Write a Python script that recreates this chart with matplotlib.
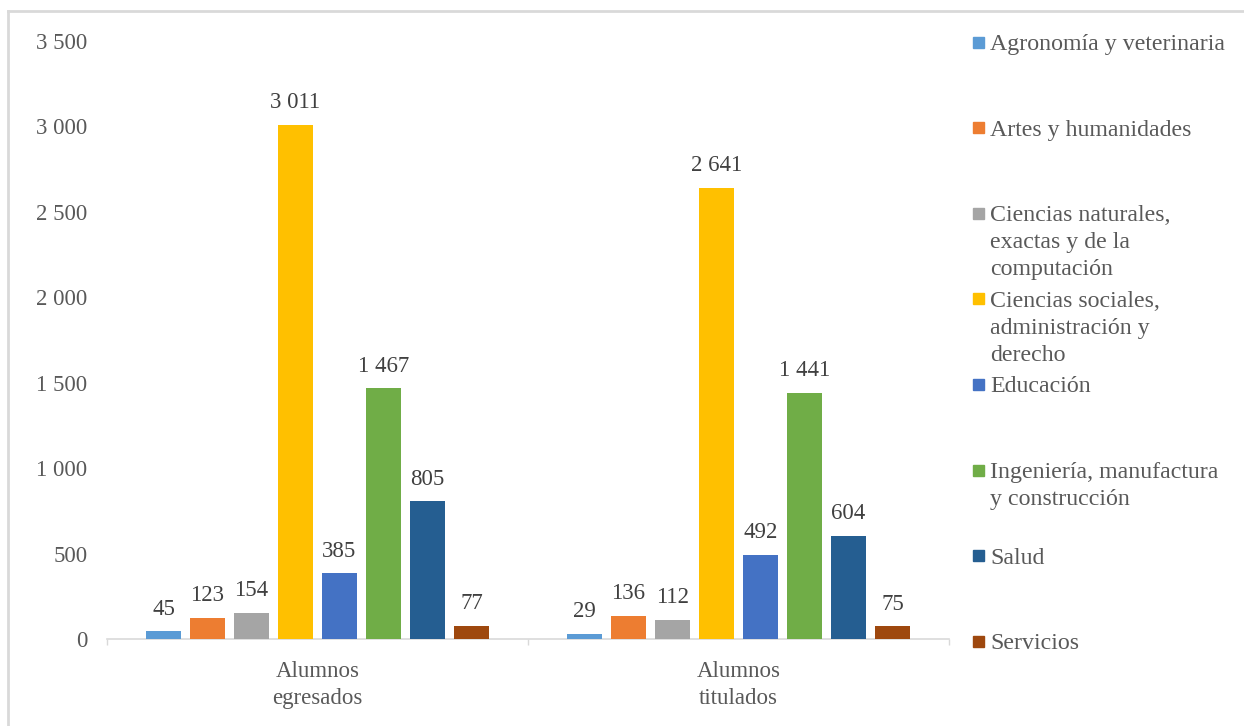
import matplotlib
matplotlib.use("Agg")
import matplotlib.pyplot as plt
import numpy as np
from matplotlib.lines import Line2D
from matplotlib.patches import Rectangle
from matplotlib.ticker import FuncFormatter

plt.rcParams['font.family'] = ['Liberation Serif', 'DejaVu Serif']

# data
groups = ["Alumnos\negresados", "Alumnos\ntitulados"]
areas = [
    "Agronomía y veterinaria",
    "Artes y humanidades",
    "Ciencias naturales,\nexactas y de la\ncomputación",
    "Ciencias sociales,\nadministración y\nderecho",
    "Educación",
    "Ingeniería, manufactura\ny construcción",
    "Salud",
    "Servicios",
]
egresados = [45, 123, 154, 3011, 385, 1467, 805, 77]
titulados = [29, 136, 112, 2641, 492, 1441, 604, 75]
y_ticks = [0, 500, 1000, 1500, 2000, 2500, 3000, 3500]

colors = ["#5B9BD5", "#ED7D31", "#A5A5A5", "#FFC000",
          "#4472C4", "#70AD47", "#255E91", "#9E480E"]

W, H = 1244, 726
fig = plt.figure(figsize=(W / 100, H / 100), dpi=100)
ax = fig.add_axes([107 / W, 1 - 639 / H, (949 - 107) / W, (639 - 41) / H])

fmt = lambda v: f"{int(v):,}".replace(",", " ")

x = np.arange(len(groups))
pitch = 0.1045
width = 0.083
values = np.array([egresados, titulados]).T
for i, (name, col) in enumerate(zip(areas, colors)):
    pos = x + (i - 3.5) * pitch
    bars = ax.bar(pos, values[i], width=width, color=col, zorder=3)
    for b, v in zip(bars, values[i]):
        ax.annotate(fmt(v), (b.get_x() + b.get_width() / 2, v),
                    xytext=(0, 12), textcoords='offset points',
                    ha='center', va='baseline', fontsize=16.5, color='#404040')

ax.set_xlim(-0.5, 1.5)
ax.set_ylim(0, 3500)
ax.set_yticks(y_ticks)
ax.yaxis.set_major_formatter(FuncFormatter(lambda v, p: fmt(v)))
ax.tick_params(axis='y', length=0, pad=14, labelsize=16.5, labelcolor='#595959')

ax.set_xticks(x)
ax.set_xticklabels(groups, linespacing=1.38)
ax.set_xticks([-0.5, 0.5, 1.5], minor=True)
ax.tick_params(axis='x', which='major', length=0, pad=15.5, labelsize=16.5,
               labelcolor='#595959')
ax.tick_params(axis='x', which='minor', length=4.5, width=1, color='#D9D9D9')

for s in ['top', 'right', 'left']:
    ax.spines[s].set_visible(False)
ax.spines['bottom'].set_color('#D9D9D9')
ax.spines['bottom'].set_linewidth(1.2)

# legend drawn by hand (uneven multi-line entries on even slots)
for i, (name, col) in enumerate(zip(areas, colors)):
    yc = 42 + 85.6 * i
    fig.add_artist(Rectangle((973 / W, 1 - (yc + 5.5) / H), 11 / W, 11 / H,
                             transform=fig.transFigure, color=col))
    fig.text(990 / W, 1 - (yc - 8) / H, name, ha='left', va='top',
             fontsize=17.2, color='#595959', linespacing=1.38)

# outer frame (left and top edges only visible)
fig.add_artist(Line2D([8 / W, 8 / W], [0, 1 - 11 / H], color='#D9D9D9',
                      lw=2, transform=fig.transFigure))
fig.add_artist(Line2D([8 / W, 1], [1 - 11 / H, 1 - 11 / H], color='#D9D9D9',
                      lw=2, transform=fig.transFigure))

fig.savefig("out.png", dpi=100, facecolor='white')
